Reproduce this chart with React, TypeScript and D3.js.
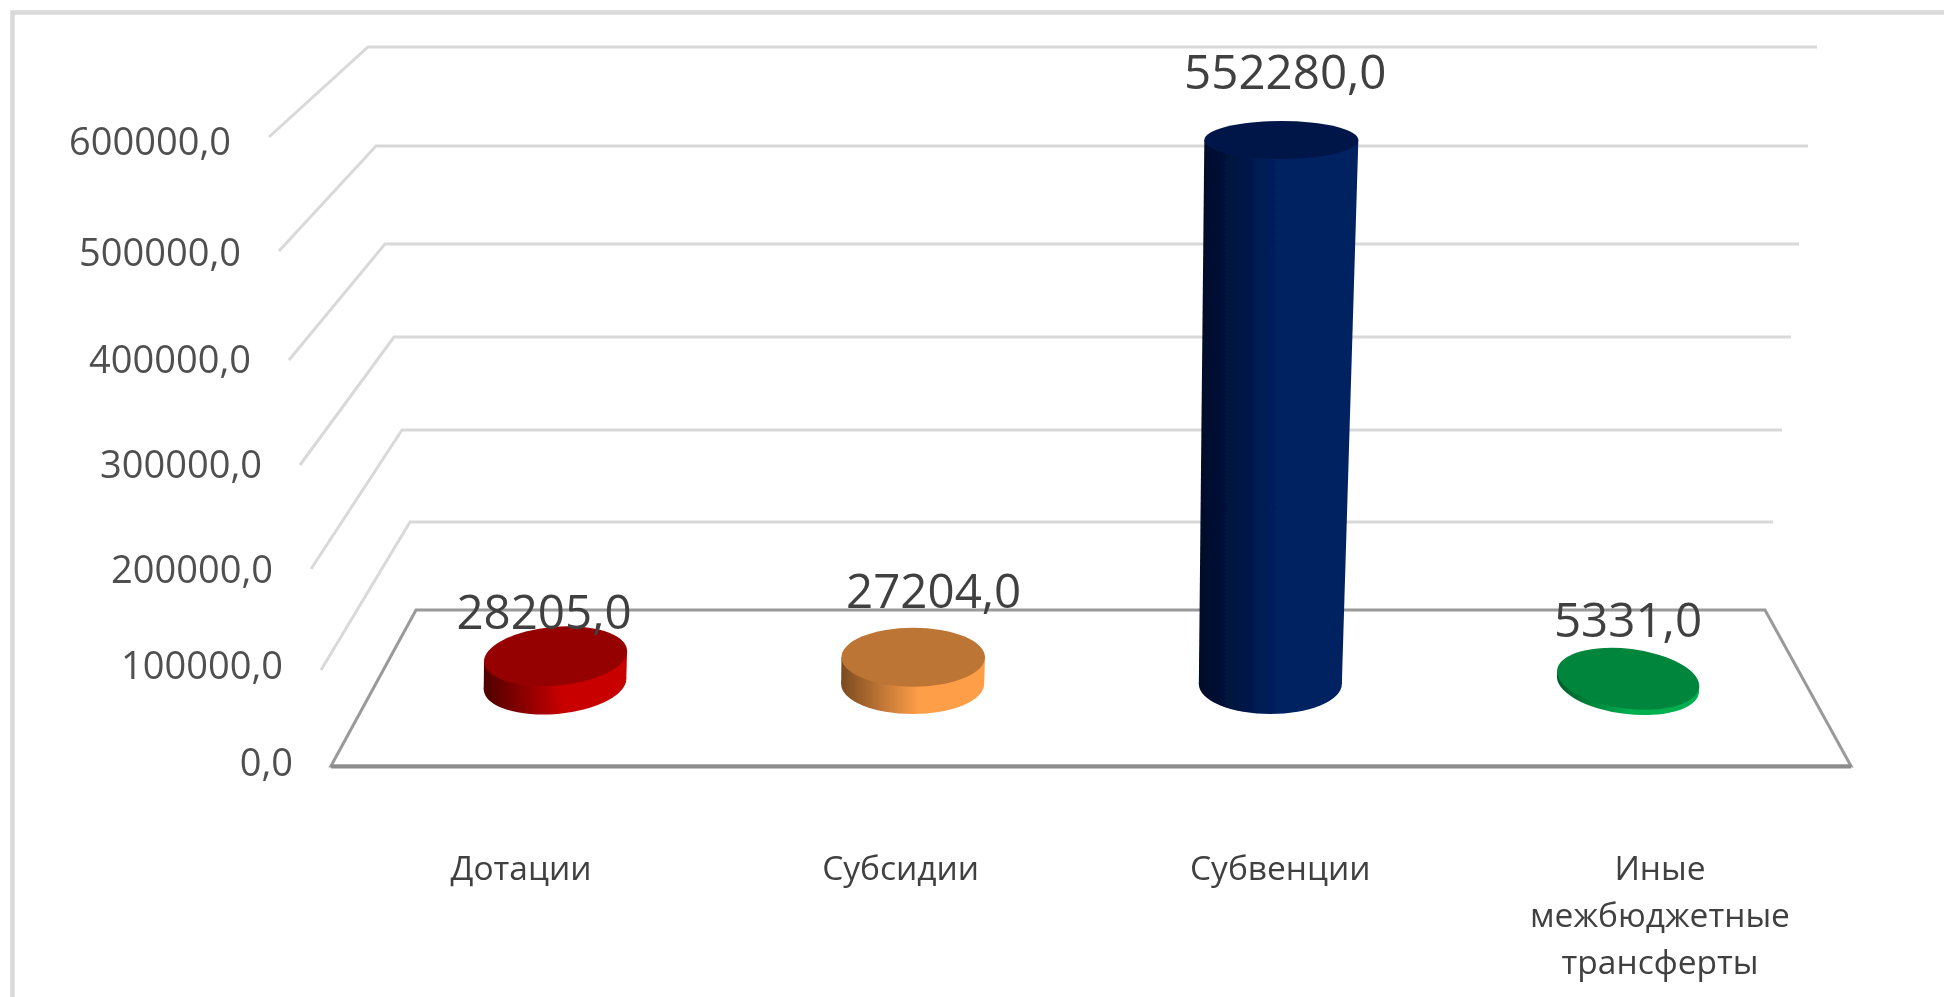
import React from "react";
import * as d3 from "d3";

const categories = ["Дотации", "Субсидии", "Субвенции", "Иные межбюджетные трансферты"];
const categoryLines = [["Дотации"], ["Субсидии"], ["Субвенции"], ["Иные", "межбюджетные", "трансферты"]];
const values = [28205, 27204, 552280, 5331];
const valueLabels = ["28205,0", "27204,0", "552280,0", "5331,0"];
const ticks = [0, 100000, 200000, 300000, 400000, 500000, 600000];
const tickLabels = ["0,0", "100000,0", "200000,0", "300000,0", "400000,0", "500000,0", "600000,0"];

const sideDark = ["#4d0000", "#7a4a20", "#000a26", "#005a28"];
const sideBright = ["#c80000", "#ff9e48", "#002060", "#00b050"];
const topFill = ["#950000", "#bc7434", "#00174a", "#00853e"];

// perspective layout of the 3D chart walls
const backYRange = [610, 522, 430, 337, 244, 146, 47];
const frontYRange = [766, 670, 569, 465, 360, 251, 137];
const labelYRange = [776, 679, 583, 478, 373, 266, 155];
const backXRange = [416, 410, 402, 394, 385, 376, 368];
const frontXRange = [331, 321, 311, 300, 289, 279, 269];
const rightXRange = [1765, 1773, 1782, 1791, 1799, 1808, 1817];
const tilt = [-5, 0, 0, 7];
const labelDX = [-11, 21, 15, 0];
const labelGap = [28, 50, 52, 43];

const W = 1944;
const H = 997;
const FONT = "'Open Sans', sans-serif";

export default function App() {
  const backY = d3.scaleLinear().domain(ticks).range(backYRange);
  const frontY = d3.scaleLinear().domain(ticks).range(frontYRange);
  const labelY = d3.scaleLinear().domain(ticks).range(labelYRange);
  const backX = d3.scaleLinear().domain(ticks).range(backXRange);
  const frontX = d3.scaleLinear().domain(ticks).range(frontXRange);
  const rightX = d3.scaleLinear().domain(ticks).range(rightXRange);
  const barY = d3.scaleLinear().domain([0, 600000]).range([684, 93]);
  const barX = d3.scalePoint<string>().domain(categories).range([555, 1628]);
  const catX = d3.scalePoint<string>().domain(categories).range([521, 1660]);
  const rxS = d3.scaleLinear().domain([0, 552280]).range([71.5, 77]);
  const ryS = d3.scaleLinear().domain([0, 552280]).range([30, 19]);
  const lean = d3.scaleLinear().domain([0, 552280]).range([0, 11]);

  const line = d3.line();

  // point where a rotated ellipse has its rightmost x
  const tangent = (a: number, b: number, rad: number) => {
    const c = Math.cos(rad);
    const s = Math.sin(rad);
    const ex = Math.sqrt(a * a * c * c + b * b * s * s);
    return [ex, ((a * a - b * b) * s * c) / ex];
  };

  return (
    <svg
      width={W}
      height={H}
      style={{ position: "fixed", left: 0, top: 0, background: "#fff", display: "block" }}
    >
      <defs>
        <filter id="soft" x="-5%" y="-5%" width="110%" height="110%">
          <feGaussianBlur stdDeviation="0.7" />
        </filter>
        {categories.map((c, i) => {
          const x = barX(c)!;
          return (
            <linearGradient
              key={c}
              id={`side${i}`}
              gradientUnits="userSpaceOnUse"
              x1={x - 72}
              x2={x + 85}
              y1={0}
              y2={0}
            >
              <stop offset="0" stopColor={sideDark[i]} />
              <stop offset="0.5" stopColor={sideBright[i]} />
              <stop offset="1" stopColor={sideBright[i]} />
            </linearGradient>
          );
        })}
      </defs>
      <g filter="url(#soft)">
        <path d={`M12.5,${H + 5}V12.5H${W + 5}`} fill="none" stroke="#d9d9d9" strokeWidth={4.5} />

        {ticks.slice(1).map((t) => (
          <path
            key={t}
            d={line([
              [frontX(t), frontY(t)],
              [backX(t), backY(t)],
              [rightX(t), backY(t)],
            ])!}
            fill="none"
            stroke="#d9d9d9"
            strokeWidth={3}
          />
        ))}

        <path
          d={line([
            [frontX(0), frontY(0)],
            [backX(0), backY(0)],
            [rightX(0), backY(0)],
            [1851, frontY(0)],
          ])! + "Z"}
          fill="#fff"
          stroke="#9a9a9a"
          strokeWidth={3}
        />
        <path
          d={line([
            [frontX(0), frontY(0) + 0.5],
            [1851, frontY(0) + 0.5],
          ])!}
          fill="none"
          stroke="#8c8c8c"
          strokeWidth={4}
        />

        {tickLabels.map((lab, i) => (
          <text
            key={lab}
            x={frontX(ticks[i]) - 38}
            y={labelY(ticks[i])}
            textAnchor="end"
            fontFamily={FONT}
            fontSize={38}
            fill="#505050"
          >
            {lab}
          </text>
        ))}

        {categories.map((c, i) => {
          const v = values[i];
          const bx = barX(c)!;
          const by = barY(0);
          const tx = bx + lean(v);
          const ty = barY(v);
          const rb = 71.5;
          const rbY = 30;
          const rt = rxS(v);
          const rtY = ryS(v);
          const rad = (tilt[i] * Math.PI) / 180;
          const [bex, bey] = tangent(rb, rbY, rad);
          const [tex, tey] = tangent(rt, rtY, rad);
          const side = line([
            [bx - bex, by - bey],
            [tx - tex, ty - tey],
            [tx + tex, ty + tey],
            [bx + bex, by + bey],
          ])! + "Z";
          return (
            <g key={c}>
              <ellipse cx={bx} cy={by} rx={rb} ry={rbY} transform={`rotate(${tilt[i]} ${bx} ${by})`} fill={`url(#side${i})`} />
              <path d={side} fill={`url(#side${i})`} />
              <ellipse cx={tx} cy={ty} rx={rt} ry={rtY} transform={`rotate(${tilt[i]} ${tx} ${ty})`} fill={topFill[i]} />
            </g>
          );
        })}

        {categories.map((c, i) => (
          <text
            key={c}
            x={barX(c)! + labelDX[i]}
            y={barY(values[i]) - labelGap[i] + 1}
            textAnchor="middle"
            fontFamily={FONT}
            fontSize={47.5}
            fill="#404040"
          >
            {valueLabels[i]}
          </text>
        ))}

        {categories.map((c, i) => (
          <text key={c} textAnchor="middle" fontFamily={FONT} fontSize={33.5} fill="#404040">
            {categoryLines[i].map((l, j) => (
              <tspan key={l} x={catX(c)!} y={880 + j * 47}>
                {l}
              </tspan>
            ))}
          </text>
        ))}
      </g>
    </svg>
  );
}
